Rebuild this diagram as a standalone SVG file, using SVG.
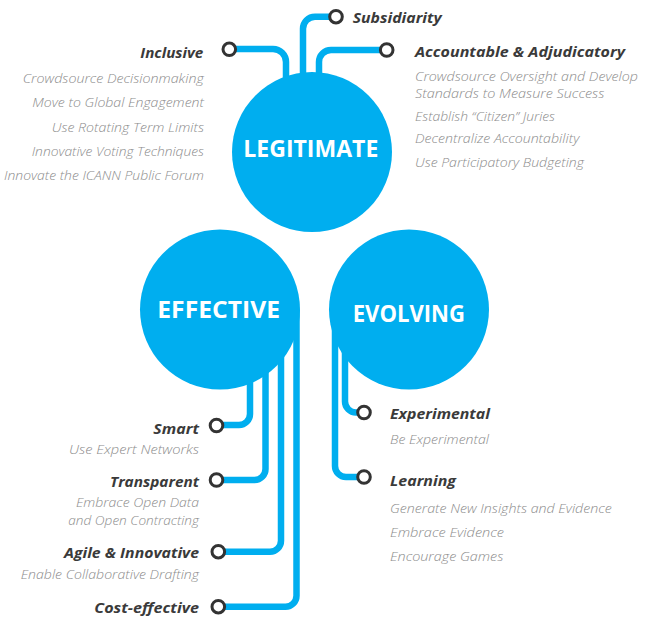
<svg xmlns="http://www.w3.org/2000/svg" width="660" height="623" viewBox="0 0 660 623">
<style>
.bg{fill:#ffffff}
.wire{fill:none;stroke:#00AEEF;stroke-width:6.5}
.big{fill:#00AEEF}
.dot{fill:#ffffff;stroke:#333333;stroke-width:3}
.big-t{font-family:"Open Sans","Liberation Sans",sans-serif;font-weight:700;font-size:23px;fill:#ffffff}
.h{font-family:"Open Sans","Liberation Sans",sans-serif;font-weight:700;font-style:italic;font-size:15px;fill:#3a3a3a}
.i{font-family:"Open Sans","Liberation Sans",sans-serif;font-weight:300;font-style:italic;font-size:13px;fill:#8c8c8c}
</style>
<rect class="bg" x="0" y="0" width="660" height="623"/>
<g id="connectors">
<path class="wire" d="M229,49 H273 A13 13 0 0 1 286 62 V150"/>
<path class="wire" d="M336,16.7 H315 A12 12 0 0 0 303 28.7 V150"/>
<path class="wire" d="M387,50 H331 A12 12 0 0 0 319 62 V150"/>
<path class="wire" d="M216.5,425 H239 A11 11 0 0 0 250 414 V310"/>
<path class="wire" d="M216.5,480 H254.5 A11 11 0 0 0 265.5 469 V310"/>
<path class="wire" d="M218.3,551.7 H270 A11 11 0 0 0 281 540.7 V310"/>
<path class="wire" d="M218.3,606.7 H285.5 A11 11 0 0 0 296.5 595.7 V310"/>
<path class="wire" d="M364,412.5 H356 A11 11 0 0 1 345 401.5 V310"/>
<path class="wire" d="M364,477 H346 A11 11 0 0 1 335 466 V310"/>
</g>
<g id="legitimate">
<circle class="big" cx="312" cy="152" r="80"/>
<text class="big-t" x="243.3" y="156.7" textLength="135" lengthAdjust="spacingAndGlyphs">LEGITIMATE</text>
</g>
<g id="effective">
<circle class="big" cx="220" cy="309.5" r="80"/>
<text class="big-t" x="157.3" y="318.3" textLength="122.7" lengthAdjust="spacingAndGlyphs">EFFECTIVE</text>
</g>
<g id="evolving">
<circle class="big" cx="409" cy="309.5" r="80"/>
<text class="big-t" x="352.7" y="321.7" textLength="112.3" lengthAdjust="spacingAndGlyphs">EVOLVING</text>
</g>
<g id="inclusive">
<circle class="dot" cx="229.3" cy="49.3" r="6.3"/>
<text class="h" x="140.3" y="57.7" textLength="63" lengthAdjust="spacingAndGlyphs">Inclusive</text>
<text class="i" x="22.7" y="82.7" textLength="181" lengthAdjust="spacingAndGlyphs">Crowdsource  Decisionmaking</text>
<text class="i" x="32.3" y="107.3" textLength="171.7" lengthAdjust="spacingAndGlyphs">Move to Global Engagement</text>
<text class="i" x="51.7" y="131.7" textLength="152.3" lengthAdjust="spacingAndGlyphs">Use Rotating Term Limits</text>
<text class="i" x="31.7" y="155.7" textLength="172.3" lengthAdjust="spacingAndGlyphs">Innovative Voting Techniques</text>
<text class="i" x="4" y="179.7" textLength="200" lengthAdjust="spacingAndGlyphs">Innovate the ICANN Public Forum</text>
</g>
<g id="subsidiarity">
<circle class="dot" cx="336" cy="16.7" r="6.3"/>
<text class="h" x="352.7" y="23.3" textLength="89" lengthAdjust="spacingAndGlyphs">Subsidiarity</text>
</g>
<g id="accountable">
<circle class="dot" cx="386.7" cy="50" r="6.3"/>
<text class="h" x="415" y="56.7" textLength="210" lengthAdjust="spacingAndGlyphs">Accountable &amp; Adjudicatory</text>
<text class="i" x="415" y="81" textLength="223" lengthAdjust="spacingAndGlyphs">Crowdsource Oversight and Develop</text>
<text class="i" x="415" y="97.7" textLength="189.3" lengthAdjust="spacingAndGlyphs">Standards to Measure Success</text>
<text class="i" x="415" y="120.7" textLength="140" lengthAdjust="spacingAndGlyphs">Establish “Citizen” Juries</text>
<text class="i" x="415" y="143.3" textLength="164.3" lengthAdjust="spacingAndGlyphs">Decentralize Accountability</text>
<text class="i" x="415" y="166.7" textLength="169" lengthAdjust="spacingAndGlyphs">Use Participatory Budgeting</text>
</g>
<g id="smart">
<circle class="dot" cx="216.5" cy="425.5" r="6.3"/>
<text class="h" x="153.3" y="434" textLength="45.7" lengthAdjust="spacingAndGlyphs">Smart</text>
<text class="i" x="69" y="454.3" textLength="130" lengthAdjust="spacingAndGlyphs">Use Expert Networks</text>
</g>
<g id="transparent">
<circle class="dot" cx="216.5" cy="480" r="6.3"/>
<text class="h" x="110" y="486.7" textLength="89" lengthAdjust="spacingAndGlyphs">Transparent</text>
<text class="i" x="76" y="506.7" textLength="123" lengthAdjust="spacingAndGlyphs">Embrace Open Data</text>
<text class="i" x="68.3" y="525" textLength="130.7" lengthAdjust="spacingAndGlyphs">and Open Contracting</text>
</g>
<g id="agile">
<circle class="dot" cx="218.3" cy="551.7" r="6.3"/>
<text class="h" x="64" y="557.7" textLength="135" lengthAdjust="spacingAndGlyphs">Agile &amp; Innovative</text>
<text class="i" x="20.7" y="579" textLength="178.3" lengthAdjust="spacingAndGlyphs">Enable Collaborative Drafting</text>
</g>
<g id="cost-effective">
<circle class="dot" cx="218.3" cy="606.7" r="6.3"/>
<text class="h" x="94.3" y="613.3" textLength="104.7" lengthAdjust="spacingAndGlyphs">Cost-effective</text>
</g>
<g id="experimental">
<circle class="dot" cx="364" cy="412.5" r="6.3"/>
<text class="h" x="390" y="419" textLength="100" lengthAdjust="spacingAndGlyphs">Experimental</text>
<text class="i" x="390" y="444.3" textLength="99" lengthAdjust="spacingAndGlyphs">Be Experimental</text>
</g>
<g id="learning">
<circle class="dot" cx="364" cy="477" r="6.3"/>
<text class="h" x="390" y="485.7" textLength="66" lengthAdjust="spacingAndGlyphs">Learning</text>
<text class="i" x="390" y="513.3" textLength="221.7" lengthAdjust="spacingAndGlyphs">Generate New Insights and Evidence</text>
<text class="i" x="390" y="536.7" textLength="114" lengthAdjust="spacingAndGlyphs">Embrace Evidence</text>
<text class="i" x="390" y="560.7" textLength="113.3" lengthAdjust="spacingAndGlyphs">Encourage Games</text>
</g>
</svg>
